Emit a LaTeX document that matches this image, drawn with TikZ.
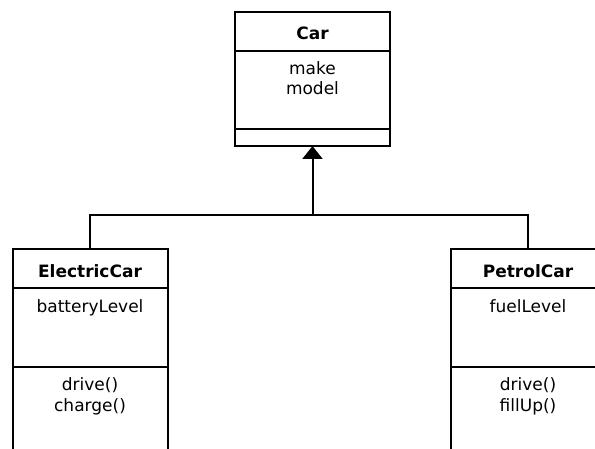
\documentclass[tikz,border=0pt]{standalone}
\usepackage{fontspec}
\setmainfont{DejaVu Sans}
\usetikzlibrary{arrows.meta}
\begin{document}
\begin{tikzpicture}[x=1pt,y=-1pt,
 compartment/.style={draw,line width=2pt,minimum width=155pt,inner sep=0pt,outer sep=0pt},
 classname/.style={font=\bfseries\fontsize{17}{20}\selectfont,anchor=base},
 member/.style={font=\fontsize{17}{20}\selectfont,anchor=base},
 link/.style={line width=2pt}]
 \useasboundingbox (0,0) rectangle (595,449);
 \clip (0,0) rectangle (595,449);
 
 \node[compartment,minimum height=39pt] (car-name) at (312.5,31.5){};
 \node[compartment,minimum height=78pt] (car-attr) at (312.5,90){};
 \node[compartment,minimum height=17pt] (car-ops) at (312.5,137.5){};
 \node[compartment,minimum height=39pt] (elec-name) at (90,268.5){};
 \node[compartment,minimum height=79pt] (elec-attr) at (90,327.5){};
 \node[compartment,minimum height=103pt] (elec-ops) at (90,418.5){};
 \node[compartment,minimum height=39pt] (petrol-name) at (528,268.5){};
 \node[compartment,minimum height=79pt] (petrol-attr) at (528,327.5){};
 \node[compartment,minimum height=103pt] (petrol-ops) at (528,418.5){};
 
 \node[classname] (car-title) at (312.5,39.5){Car};
 \node[member] (car-make) at (312.5,75){make};
 \node[member] (car-model) at (312.5,95){model};
 
 \node[classname] (elec-title) at (90,278){ElectricCar};
 \node[member] (elec-battery) at (90,313){batteryLevel};
 \node[member] (elec-drive) at (90,391){drive()};
 \node[member] (elec-charge) at (90,411){charge()};
 
 \node[classname] (petrol-title) at (528,278){PetrolCar};
 \node[member] (petrol-fuel) at (528,313){fuelLevel};
 \node[member] (petrol-drive) at (528,391){drive()};
 \node[member] (petrol-fill) at (528,411){fillUp()};
 
 \coordinate (junction) at (312.5,215);
 \draw[link] (elec-name.north) |- (junction) -| (petrol-name.north);
 \draw[link,-{Triangle[length=13pt,width=20pt]}] (junction) -- (car-ops.south);
\end{tikzpicture}
\end{document}
